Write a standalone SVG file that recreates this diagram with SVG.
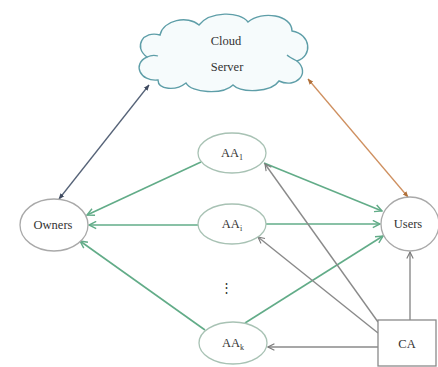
<svg xmlns="http://www.w3.org/2000/svg" width="438" height="367" viewBox="0 0 438 367">
<style>
.lbl{font-family:"Liberation Serif","DejaVu Serif","Times New Roman",serif;font-size:12.5px;fill:#333;text-anchor:middle}
.sub{font-size:8px}
.node{fill:#fff;stroke:#a9a9a9;stroke-width:1.3}
.aa{fill:#fff;stroke:#a8c2b4;stroke-width:1.3}
.g{stroke:#62ac88;stroke-width:1.6;fill:none}
.k{stroke:#8a8a8a;stroke-width:1.4;fill:none}
</style>
<defs>
<marker id="ag" viewBox="0 0 10 10" refX="9" refY="5" markerWidth="9" markerHeight="9" markerUnits="userSpaceOnUse" orient="auto"><path d="M1,1 L9,5 L1,9" fill="none" stroke="#62ac88" stroke-width="1.6"/></marker>
<marker id="ak" viewBox="0 0 10 10" refX="9" refY="5" markerWidth="8" markerHeight="8" markerUnits="userSpaceOnUse" orient="auto"><path d="M1,1 L9,5 L1,9" fill="none" stroke="#7a7a7a" stroke-width="1.4"/></marker>
<marker id="ad" viewBox="0 0 10 10" refX="9" refY="5" markerWidth="6" markerHeight="6" markerUnits="userSpaceOnUse" orient="auto-start-reverse"><path d="M0,1 L10,5 L0,9 Z" fill="#3f4a60"/></marker>
<marker id="ao" viewBox="0 0 10 10" refX="9" refY="5" markerWidth="6" markerHeight="6" markerUnits="userSpaceOnUse" orient="auto-start-reverse"><path d="M0,1 L10,5 L0,9 Z" fill="#b0703a"/></marker>
</defs>
<rect width="438" height="367" fill="#fff"/>
<g id="connectors">
<line x1="149" y1="85" x2="59" y2="199" stroke="#566378" stroke-width="1.3" marker-start="url(#ad)" marker-end="url(#ad)"/>
<line x1="308" y1="79" x2="408" y2="197" stroke="#cf9060" stroke-width="1.3" marker-start="url(#ao)" marker-end="url(#ao)"/>
<line class="g" x1="201" y1="162" x2="87" y2="215" marker-end="url(#ag)"/>
<line class="g" x1="198" y1="225" x2="89" y2="225" marker-end="url(#ag)"/>
<line class="g" x1="205" y1="330" x2="80" y2="241" marker-end="url(#ag)"/>
<line class="g" x1="264" y1="163" x2="382" y2="211" marker-end="url(#ag)"/>
<line class="g" x1="266" y1="224" x2="380" y2="224" marker-end="url(#ag)"/>
<line class="g" x1="245" y1="323" x2="383" y2="236" marker-end="url(#ag)"/>
<line class="k" x1="378" y1="322" x2="265" y2="164" marker-end="url(#ak)"/>
<line class="k" x1="378" y1="333" x2="258" y2="237" marker-end="url(#ak)"/>
<line class="k" x1="378" y1="347" x2="268" y2="347" marker-end="url(#ak)"/>
<line class="k" x1="410" y1="320" x2="410" y2="252" marker-end="url(#ak)"/>
</g>
<g id="cloud">
<path d="M158,80 C140,82 132,64 147,57 C133,47 143,30 160,35 C163,20 188,15 199,25 C210,11 240,11 248,22 C262,10 292,15 292,31 C311,34 313,56 297,61 C311,73 296,89 279,81 C271,93 241,93 233,85 C223,95 191,93 186,83 C176,91 158,90 158,80 Z" fill="#f6fbfc" stroke="#5e9ea8" stroke-width="1.4"/>
<path d="M297,61 C293,59 289,57 287,55" fill="none" stroke="#5e9ea8" stroke-width="1.2"/>
<path d="M147,57 C151,55 155,55 158,56" fill="none" stroke="#5e9ea8" stroke-width="1.2"/>
<text class="lbl" x="226" y="45">Cloud</text>
<text class="lbl" x="227" y="71">Server</text>
</g>
<g id="owners">
<ellipse class="node" cx="54" cy="225" rx="34" ry="26"/>
<text class="lbl" x="53" y="229">Owners</text>
</g>
<g id="users">
<ellipse class="node" cx="410" cy="224" rx="29" ry="27" stroke="#b8a8a8"/>
<text class="lbl" x="408" y="228">Users</text>
</g>
<g id="aa1">
<ellipse class="aa" cx="232" cy="153" rx="34" ry="20"/>
<text class="lbl" x="232" y="157">AA<tspan class="sub" dy="3">1</tspan></text>
</g>
<g id="aai">
<ellipse class="aa" cx="232" cy="224" rx="34" ry="20"/>
<text class="lbl" x="232" y="228">AA<tspan class="sub" dy="3">i</tspan></text>
</g>
<g id="dots">
<text class="lbl" x="226" y="292">⋮</text>
</g>
<g id="aak">
<ellipse class="aa" cx="233" cy="343" rx="34" ry="21"/>
<text class="lbl" x="233" y="347">AA<tspan class="sub" dy="3">k</tspan></text>
</g>
<g id="ca">
<rect x="378" y="320" width="58" height="46" fill="#fff" stroke="#8a8a8a" stroke-width="1.3"/>
<text class="lbl" x="407" y="348">CA</text>
</g>
</svg>
